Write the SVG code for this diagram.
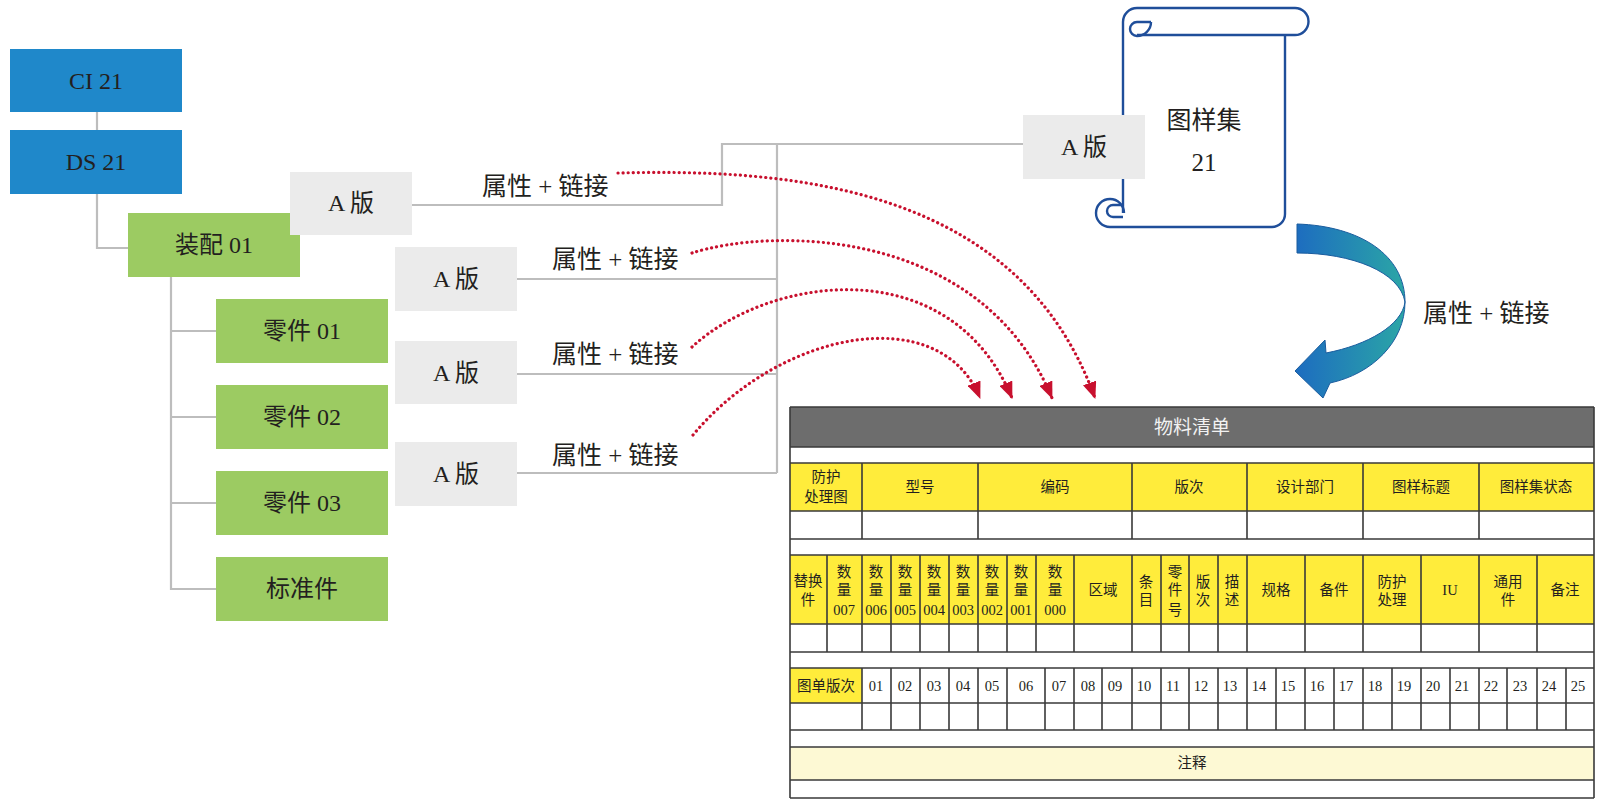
<svg xmlns="http://www.w3.org/2000/svg" width="1600" height="804" viewBox="0 0 1600 804">
<style>
.t{font-family:"Liberation Serif","Noto Sans CJK SC",serif;fill:#231f20;text-anchor:middle;dominant-baseline:central}
.n24{font-size:24px}
.lbl{font-family:"Liberation Serif","Noto Sans CJK SC",serif;fill:#231f20;font-size:25px;dominant-baseline:central}
.blue{fill:#1f88ca}
.green{fill:#9ccb62}
.gray{fill:#ebebeb}
.conn{fill:none;stroke:#bdbdbd;stroke-width:2.2}
.dot{fill:none;stroke:#c8102e;stroke-width:3.2;stroke-dasharray:0.1 5;stroke-linecap:round}
.grid{stroke:#3a3a3a;stroke-width:1.6;fill:none}
.ty{fill:#ffec3b}
.tt{font-family:"Liberation Serif","Noto Sans CJK SC",serif;fill:#231f20;font-size:14.5px;text-anchor:middle;dominant-baseline:central}
.hd{font-size:19px;fill:#f2f2f2}
.sc{fill:none;stroke:#1f4e9a;stroke-width:2.4;stroke-linejoin:round}
</style>
<defs>
<marker id="arrowRed" markerUnits="userSpaceOnUse" viewBox="0 0 17 14" refX="16" refY="7" markerWidth="17" markerHeight="14" orient="auto">
<path d="M0,0 L17,7 L0,14 Z" fill="#c8102e"/>
</marker>
<linearGradient id="bg" x1="0" y1="0" x2="1" y2="0">
<stop offset="0" stop-color="#1d6cc0"/>
<stop offset="1" stop-color="#2ba6a6"/>
</linearGradient>
</defs>
<rect width="1600" height="804" fill="#ffffff"/>

<g id="connectors">
<path class="conn" d="M97,112 L97,130"/>
<path class="conn" d="M97,194 L97,248 L128,248"/>
<path class="conn" d="M171,277 L171,589 L216,589 M171,331 L216,331 M171,417 L216,417 M171,503 L216,503"/>
<path class="conn" d="M412,205 L722,205 L722,144 L1023,144"/>
<path class="conn" d="M777,144 L777,473 M517,279 L777,279 M517,374 L777,374 M517,473 L777,473"/>
<path class="dot" d="M618,173 C800,168 1020,190 1095,398" marker-end="url(#arrowRed)"/>
<path class="dot" d="M692,253 C770,228 980,225 1052,398" marker-end="url(#arrowRed)"/>
<path class="dot" d="M692,347 C770,275 950,250 1012,398" marker-end="url(#arrowRed)"/>
<path class="dot" d="M693,435 C780,330 940,300 980,398" marker-end="url(#arrowRed)"/>
</g>

<g id="ci21"><rect class="blue" x="10" y="49" width="172" height="63"/><text class="t n24" x="96" y="81">CI 21</text></g>
<g id="ds21"><rect class="blue" x="10" y="130" width="172" height="64"/><text class="t n24" x="96" y="162">DS 21</text></g>
<g id="assy01"><rect class="green" x="128" y="213" width="172" height="64"/><text class="t n24" x="214" y="245">装配 01</text></g>
<g id="rev-assy"><rect class="gray" x="290" y="172" width="122" height="63"/><text class="t n24" x="351" y="203">A 版</text></g>
<g id="part01"><rect class="green" x="216" y="299" width="172" height="64"/><text class="t n24" x="302" y="331">零件 01</text></g>
<g id="part02"><rect class="green" x="216" y="385" width="172" height="64"/><text class="t n24" x="302" y="417">零件 02</text></g>
<g id="part03"><rect class="green" x="216" y="471" width="172" height="64"/><text class="t n24" x="302" y="503">零件 03</text></g>
<g id="std"><rect class="green" x="216" y="557" width="172" height="64"/><text class="t n24" x="302" y="589">标准件</text></g>
<g id="rev-p1"><rect class="gray" x="395" y="247" width="122" height="64"/><text class="t n24" x="456" y="279">A 版</text></g>
<g id="rev-p2"><rect class="gray" x="395" y="341" width="122" height="63"/><text class="t n24" x="456" y="373">A 版</text></g>
<g id="rev-p3"><rect class="gray" x="395" y="442" width="122" height="64"/><text class="t n24" x="456" y="474">A 版</text></g>

<g id="labels">
<text class="lbl" x="482" y="186">属性 + 链接</text>
<text class="lbl" x="552" y="259">属性 + 链接</text>
<text class="lbl" x="552" y="354">属性 + 链接</text>
<text class="lbl" x="552" y="455">属性 + 链接</text>
<text class="lbl" x="1423" y="313">属性 + 链接</text>
</g>

<g id="scroll">
<path d="M1123,22 L1285,22 L1285,214 A13 13 0 0 1 1272,227 L1110,227 L1110,200 L1123,200 Z" fill="#ffffff"/>
<path class="sc" d="M1123,213 L1123,22 A14 14 0 0 1 1137,8 L1295,8 A13.5 13.5 0 0 1 1295,35 L1137,35"/>
<path class="sc" d="M1151,22 A14 14 0 0 1 1137,36 A6.5 6.5 0 0 1 1137,22 L1151,22"/>
<path class="sc" d="M1285,35 L1285,214 A13 13 0 0 1 1272,227 L1110,227 A14 14 0 0 1 1110,199 A14 14 0 0 1 1124,213"/>
<path class="sc" d="M1123,205 L1113,205 A6 6 0 0 0 1113,217 L1123,217"/>
<text class="t" x="1204" y="120" font-size="25">图样集</text>
<text class="t" x="1204" y="162" font-size="25">21</text>
</g>
<g id="rev-set"><rect class="gray" x="1023" y="115" width="122" height="64"/><text class="t n24" x="1084" y="147">A 版</text></g>

<g id="curved-arrow">
<path d="M1297,224 C1360,226 1405,255 1405,302 C1405,342 1372,374 1330,383 L1323,398 L1295,371 L1325,340 L1326,353 C1368,345 1402,325 1405,302 C1400,272 1352,253 1297,253 Z" fill="url(#bg)" stroke="#1a5c9e" stroke-width="1"/>
</g>

<g id="bom-table">
<rect x="790" y="407" width="804" height="40" fill="#6d6d6d"/>
<rect x="790" y="447" width="804" height="351" fill="#ffffff"/>
<rect class="ty" x="790" y="463" width="804" height="48"/>
<rect class="ty" x="790" y="555" width="804" height="69"/>
<rect class="ty" x="790" y="668" width="72" height="35"/>
<rect x="790" y="747" width="804" height="33" fill="#fdf9d4"/>
<path class="grid" d="M790,407 H1594 M790,447 H1594 M790,463 H1594 M790,511 H1594 M790,539 H1594 M790,555 H1594 M790,624 H1594 M790,652 H1594 M790,668 H1594 M790,703 H1594 M790,730 H1594 M790,747 H1594 M790,780 H1594 M790,798 H1594 M790,407 V798 M1594,407 V798"/>
<path class="grid" d="M862,463 V539 M978,463 V539 M1132,463 V539 M1247,463 V539 M1363,463 V539 M1479,463 V539"/>
<path class="grid" d="M827,555 V652 M862,555 V652 M891,555 V652 M920,555 V652 M949,555 V652 M978,555 V652 M1007,555 V652 M1036,555 V652 M1074,555 V652 M1132,555 V652 M1161,555 V652 M1189,555 V652 M1218,555 V652 M1247,555 V652 M1305,555 V652 M1363,555 V652 M1421,555 V652 M1479,555 V652 M1537,555 V652"/>
<path class="grid" d="M862,668 V730 M891,668 V730 M920,668 V730 M949,668 V730 M978,668 V730 M1007,668 V730 M1045,668 V730 M1074,668 V730 M1102,668 V730 M1132,668 V730 M1161,668 V730 M1189,668 V730 M1218,668 V730 M1247,668 V730 M1276,668 V730 M1305,668 V730 M1334,668 V730 M1363,668 V730 M1392,668 V730 M1421,668 V730 M1450,668 V730 M1479,668 V730 M1507,668 V730 M1537,668 V730 M1566,668 V730"/>
<text class="tt hd" x="1192" y="427">物料清单</text>
<text class="tt" x="826" y="477">防护</text><text class="tt" x="826" y="497">处理图</text>
<text class="tt" x="920" y="487">型号</text>
<text class="tt" x="1055" y="487">编码</text>
<text class="tt" x="1189" y="487">版次</text>
<text class="tt" x="1305" y="487">设计部门</text>
<text class="tt" x="1421" y="487">图样标题</text>
<text class="tt" x="1536" y="487">图样集状态</text>
<text class="tt" x="808" y="581">替换</text><text class="tt" x="808" y="600">件</text>
<text class="tt" x="844" y="572">数</text><text class="tt" x="844" y="590">量</text><text class="tt" x="844" y="610">007</text>
<text class="tt" x="876" y="572">数</text><text class="tt" x="876" y="590">量</text><text class="tt" x="876" y="610">006</text>
<text class="tt" x="905" y="572">数</text><text class="tt" x="905" y="590">量</text><text class="tt" x="905" y="610">005</text>
<text class="tt" x="934" y="572">数</text><text class="tt" x="934" y="590">量</text><text class="tt" x="934" y="610">004</text>
<text class="tt" x="963" y="572">数</text><text class="tt" x="963" y="590">量</text><text class="tt" x="963" y="610">003</text>
<text class="tt" x="992" y="572">数</text><text class="tt" x="992" y="590">量</text><text class="tt" x="992" y="610">002</text>
<text class="tt" x="1021" y="572">数</text><text class="tt" x="1021" y="590">量</text><text class="tt" x="1021" y="610">001</text>
<text class="tt" x="1055" y="572">数</text><text class="tt" x="1055" y="590">量</text><text class="tt" x="1055" y="610">000</text>
<text class="tt" x="1103" y="590">区域</text>
<text class="tt" x="1146" y="582">条</text><text class="tt" x="1146" y="600">目</text>
<text class="tt" x="1175" y="572">零</text><text class="tt" x="1175" y="590">件</text><text class="tt" x="1175" y="610">号</text>
<text class="tt" x="1203" y="582">版</text><text class="tt" x="1203" y="600">次</text>
<text class="tt" x="1232" y="582">描</text><text class="tt" x="1232" y="600">述</text>
<text class="tt" x="1276" y="590">规格</text>
<text class="tt" x="1334" y="590">备件</text>
<text class="tt" x="1392" y="582">防护</text><text class="tt" x="1392" y="600">处理</text>
<text class="tt" x="1450" y="590">IU</text>
<text class="tt" x="1508" y="582">通用</text><text class="tt" x="1508" y="600">件</text>
<text class="tt" x="1565" y="590">备注</text>
<text class="tt" x="826" y="686">图单版次</text>
<text class="tt" x="876" y="686">01</text><text class="tt" x="905" y="686">02</text><text class="tt" x="934" y="686">03</text><text class="tt" x="963" y="686">04</text><text class="tt" x="992" y="686">05</text><text class="tt" x="1026" y="686">06</text><text class="tt" x="1059" y="686">07</text><text class="tt" x="1088" y="686">08</text><text class="tt" x="1115" y="686">09</text>
<text class="tt" x="1144" y="686">10</text><text class="tt" x="1173" y="686">11</text><text class="tt" x="1201" y="686">12</text><text class="tt" x="1230" y="686">13</text><text class="tt" x="1259" y="686">14</text><text class="tt" x="1288" y="686">15</text><text class="tt" x="1317" y="686">16</text><text class="tt" x="1346" y="686">17</text><text class="tt" x="1375" y="686">18</text><text class="tt" x="1404" y="686">19</text><text class="tt" x="1433" y="686">20</text><text class="tt" x="1462" y="686">21</text><text class="tt" x="1491" y="686">22</text><text class="tt" x="1520" y="686">23</text><text class="tt" x="1549" y="686">24</text><text class="tt" x="1578" y="686">25</text>
<text class="tt" x="1192" y="763">注释</text>
</g>
</svg>
